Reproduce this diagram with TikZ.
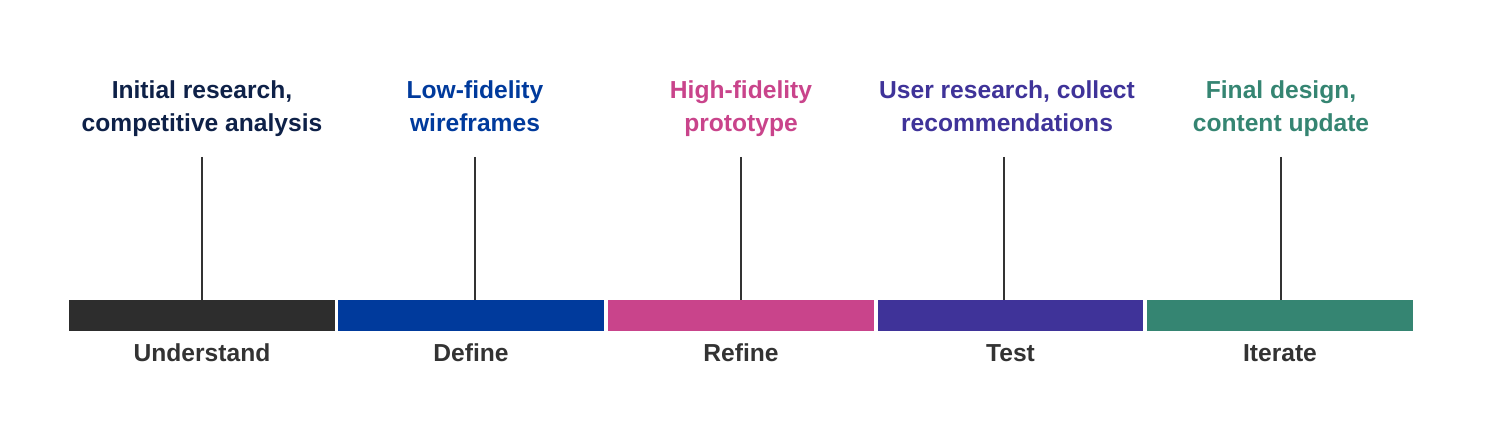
\documentclass[tikz,border=0pt]{standalone}
\usepackage{fontspec}
\setmainfont{Liberation Sans}
\usetikzlibrary{positioning,calc}
\definecolor{cUnderstand}{HTML}{2D2D2D}
\definecolor{cUnderstandTxt}{HTML}{0E2148}
\definecolor{cDefine}{HTML}{003A9C}
\definecolor{cRefine}{HTML}{C9448B}
\definecolor{cTest}{HTML}{3F3399}
\definecolor{cIterate}{HTML}{358572}
\definecolor{cLabel}{HTML}{333333}
\definecolor{cTick}{HTML}{333333}
\tikzset{
    phase/.style={rectangle, draw=none, inner sep=0pt, minimum width=5.32cm, minimum height=0.62cm},
    goal/.style={align=center, anchor=base, font=\fontsize{14}{19}\selectfont\bfseries},
    stage/.style={anchor=base, font=\fontsize{14}{16}\selectfont\bfseries, text=cLabel},
    tick/.style={draw=cTick, line width=1.1pt}
}

\begin{document}
\begin{tikzpicture}[x=0.02cm, y=-0.02cm]
                    \useasboundingbox (0, 0) rectangle (1496, 448);
                    % Bars
                    \node[phase, fill=cUnderstand] (bar1) at (202, 315.5) {};
                    \node[phase, fill=cDefine] (bar2) at (471, 315.5) {};
                    \node[phase, fill=cRefine] (bar3) at (741, 315.5) {};
                    \node[phase, fill=cTest] (bar4) at (1010.5, 315.5) {};
                    \node[phase, fill=cIterate] (bar5) at (1280, 315.5) {};
                    % Stages
                    \node[stage] (stage1) at (202, 362) {Understand};
                    \node[stage] (stage2) at (471, 362) {Define};
                    \node[stage] (stage3) at (741, 362) {Refine};
                    \node[stage] (stage4) at (1010.5, 362) {Test};
                    \node[stage] (stage5) at (1280, 362) {Iterate};
                    % Labels
                    \node[goal, text=cUnderstandTxt] (goal1) at (202, 132) {Initial research,\\competitive analysis};
                    \node[goal, text=cDefine] (goal2) at (475, 132) {Low-fidelity\\wireframes};
                    \node[goal, text=cRefine] (goal3) at (741, 132) {High-fidelity\\prototype};
                    \node[goal, text=cTest] (goal4) at (1007, 132) {User research, collect\\recommendations};
                    \node[goal, text=cIterate] (goal5) at (1281, 132) {Final design,\\content update};
                    % Ticks
                    \coordinate (top1) at (202, 157);
                    \coordinate (top2) at (475, 157);
                    \coordinate (top3) at (741, 157);
                    \coordinate (top4) at (1004, 157);
                    \coordinate (top5) at (1281, 157);
                    \draw[tick] (top1) -- (top1 |- bar1.north);
                    \draw[tick] (top2) -- (top2 |- bar2.north);
                    \draw[tick] (top3) -- (top3 |- bar3.north);
                    \draw[tick] (top4) -- (top4 |- bar4.north);
                    \draw[tick] (top5) -- (top5 |- bar5.north);
                \end{tikzpicture}
\end{document}
